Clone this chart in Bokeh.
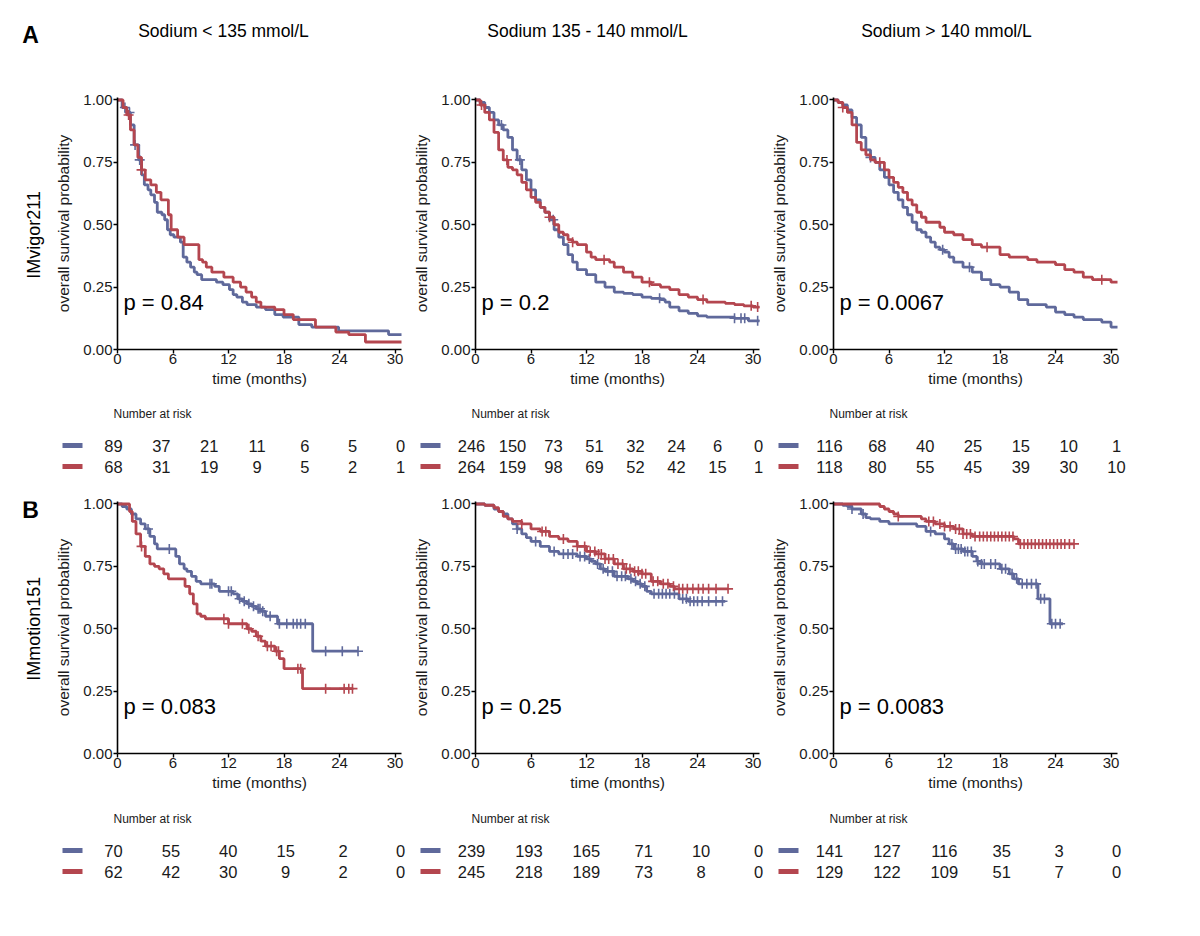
import bisect
from bokeh.plotting import figure
from bokeh.layouts import row, column
from bokeh.models import Range1d, FixedTicker, PrintfTickFormatter
from bokeh.core.properties import value
from bokeh.embed import file_html
from bokeh.resources import INLINE

FONT = "Liberation Sans"
BLUE = "#5F699B"
RED = "#B4464F"

# ---------------- data ----------------
TITLES = ["Sodium < 135 mmol/L", "Sodium 135 - 140 mmol/L", "Sodium > 140 mmol/L"]
PANELS = ["A", "B"]
COHORTS = ["IMvigor211", "IMmotion151"]
X_TICKS = [0, 6, 12, 18, 24, 30]
Y_TICKS = [0.0, 0.25, 0.5, 0.75, 1.0]

# Row A (IMvigor211)
a1_blue_t = [0.5, 1.0, 1.4, 1.8, 2.3, 2.6, 2.9, 3.3, 3.6, 4.0, 4.3, 4.8, 5.1, 5.4, 5.7, 6.1, 6.8, 7.1, 7.5, 7.9, 8.3, 8.6, 9.1, 10.7, 11.4, 12.1, 12.5, 12.9, 13.5, 14.0, 15.0, 16.0, 17.0, 17.9, 19.6, 21.0, 23.9, 29.3]
a1_blue_s = [0.97, 0.95, 0.90, 0.82, 0.76, 0.70, 0.66, 0.64, 0.62, 0.59, 0.55, 0.54, 0.52, 0.48, 0.46, 0.45, 0.43, 0.37, 0.35, 0.33, 0.31, 0.30, 0.28, 0.27, 0.26, 0.24, 0.22, 0.21, 0.19, 0.18, 0.17, 0.16, 0.14, 0.13, 0.10, 0.09, 0.075, 0.06]
a1_blue_end = 30.8
a1_blue_cens = [0.8, 1.3, 1.9, 2.4]
a1_red_t = [0.6, 1.0, 1.4, 1.8, 2.2, 2.6, 3.0, 3.6, 4.2, 4.7, 5.5, 5.8, 6.5, 7.2, 8.8, 9.2, 9.6, 10.2, 11.5, 12.5, 13.3, 13.9, 14.5, 15.0, 15.5, 17.0, 18.0, 19.0, 21.4, 23.6, 25.0, 26.8]
a1_red_s = [0.97, 0.94, 0.88, 0.82, 0.77, 0.72, 0.68, 0.66, 0.63, 0.60, 0.54, 0.48, 0.45, 0.42, 0.36, 0.35, 0.33, 0.31, 0.29, 0.27, 0.25, 0.23, 0.21, 0.19, 0.17, 0.16, 0.14, 0.12, 0.09, 0.07, 0.06, 0.03]
a1_red_end = 30.8
a1_red_cens = [1.2, 2.6]

a2_blue_t = [0.5, 1.0, 1.5, 2.0, 2.5, 3.0, 3.5, 4.0, 4.5, 5.0, 5.5, 6.0, 6.5, 7.0, 7.5, 8.0, 8.5, 9.0, 9.5, 10.0, 10.5, 11.0, 12.0, 13.0, 14.0, 15.0, 16.0, 17.0, 18.0, 19.0, 20.0, 20.5, 21.0, 22.0, 23.0, 24.0, 25.0, 28.0, 29.5]
a2_blue_s = [0.99, 0.97, 0.95, 0.92, 0.90, 0.88, 0.85, 0.80, 0.76, 0.72, 0.68, 0.64, 0.60, 0.57, 0.55, 0.52, 0.48, 0.45, 0.42, 0.38, 0.35, 0.32, 0.30, 0.27, 0.25, 0.23, 0.225, 0.22, 0.21, 0.205, 0.20, 0.19, 0.17, 0.155, 0.145, 0.135, 0.13, 0.125, 0.115]
a2_blue_end = 30.8
a2_blue_cens = [2.8, 4.8, 8.4, 19.9, 28.0, 28.7, 29.1, 30.5]
a2_red_t = [0.5, 1.0, 1.5, 2.0, 2.5, 3.0, 3.5, 4.0, 4.5, 5.0, 5.5, 6.0, 6.5, 7.0, 7.5, 8.0, 8.5, 9.0, 9.5, 10.0, 10.5, 11.0, 12.0, 12.5, 13.0, 14.5, 15.0, 16.0, 17.0, 18.0, 19.0, 20.0, 21.0, 22.0, 23.0, 24.0, 25.0, 27.0, 28.0, 29.0, 30.0]
a2_red_s = [0.98, 0.95, 0.92, 0.87, 0.80, 0.76, 0.73, 0.72, 0.70, 0.67, 0.64, 0.61, 0.59, 0.57, 0.55, 0.53, 0.50, 0.47, 0.46, 0.44, 0.43, 0.42, 0.39, 0.37, 0.36, 0.35, 0.33, 0.31, 0.29, 0.27, 0.26, 0.25, 0.24, 0.22, 0.21, 0.20, 0.19, 0.185, 0.18, 0.175, 0.17]
a2_red_end = 30.8
a2_red_cens = [0.65, 3.4, 8.0, 10.5, 13.9, 18.8, 24.6, 29.8, 30.5]

a3_blue_t = [0.5, 1.0, 1.5, 2.0, 2.5, 3.0, 3.5, 4.0, 4.5, 5.0, 5.5, 6.0, 6.5, 7.0, 7.5, 8.0, 8.5, 9.0, 9.5, 10.0, 10.5, 11.0, 11.5, 12.0, 12.5, 13.0, 14.0, 15.0, 16.0, 17.0, 18.0, 19.0, 20.0, 21.0, 23.0, 24.0, 25.0, 26.0, 27.0, 29.0, 30.0]
a3_blue_s = [0.99, 0.98, 0.96, 0.93, 0.90, 0.85, 0.80, 0.77, 0.75, 0.72, 0.69, 0.66, 0.63, 0.60, 0.57, 0.54, 0.51, 0.48, 0.47, 0.45, 0.43, 0.41, 0.40, 0.39, 0.37, 0.35, 0.33, 0.31, 0.28, 0.26, 0.25, 0.23, 0.20, 0.18, 0.17, 0.15, 0.14, 0.13, 0.12, 0.11, 0.09]
a3_blue_end = 30.8
a3_blue_cens = [4.0, 11.8, 14.7]
a3_red_t = [0.5, 1.0, 1.5, 2.0, 2.5, 3.0, 3.5, 4.0, 4.5, 5.5, 6.0, 6.5, 7.0, 7.5, 8.0, 8.5, 9.0, 9.5, 10.0, 11.5, 12.0, 13.0, 14.0, 15.0, 16.0, 18.0, 19.0, 21.0, 22.0, 24.0, 25.0, 26.0, 27.0, 28.0, 30.0]
a3_red_s = [0.99, 0.97, 0.95, 0.90, 0.83, 0.80, 0.78, 0.76, 0.75, 0.72, 0.69, 0.67, 0.65, 0.63, 0.60, 0.58, 0.55, 0.53, 0.51, 0.49, 0.47, 0.46, 0.44, 0.42, 0.41, 0.38, 0.37, 0.36, 0.35, 0.34, 0.32, 0.31, 0.29, 0.28, 0.27]
a3_red_end = 30.8
a3_red_cens = [1.0, 5.0, 16.6, 29.0]

# Row B (IMmotion151)
b1_blue_t = [0.5, 1.0, 1.5, 2.0, 2.5, 3.0, 3.5, 4.0, 4.3, 6.3, 6.7, 7.2, 7.5, 8.0, 8.5, 9.0, 10.5, 11.0, 12.5, 13.0, 13.5, 14.0, 14.5, 15.0, 15.5, 16.0, 17.3, 21.1]
b1_blue_s = [0.99, 0.98, 0.96, 0.94, 0.92, 0.90, 0.87, 0.84, 0.82, 0.79, 0.76, 0.74, 0.73, 0.71, 0.69, 0.68, 0.67, 0.65, 0.64, 0.62, 0.61, 0.60, 0.59, 0.58, 0.57, 0.55, 0.52, 0.41]
b1_blue_end = 26.0
b1_blue_cens = [3.3, 5.6, 10.0, 10.2, 12.0, 12.3, 13.2, 13.7, 14.2, 14.7, 15.2, 15.4, 15.7, 16.5, 17.5, 18.3, 19.0, 19.4, 19.8, 20.3, 22.5, 24.3, 26.0]
b1_red_t = [1.3, 1.6, 2.0, 2.5, 3.0, 3.5, 4.0, 4.5, 5.0, 5.5, 7.3, 7.8, 8.2, 8.6, 9.0, 9.5, 12.0, 14.0, 14.5, 15.0, 15.5, 16.0, 17.0, 17.5, 18.0, 20.0]
b1_red_s = [0.97, 0.93, 0.88, 0.83, 0.79, 0.76, 0.75, 0.74, 0.72, 0.70, 0.67, 0.64, 0.60, 0.56, 0.55, 0.54, 0.52, 0.50, 0.49, 0.47, 0.45, 0.43, 0.41, 0.38, 0.34, 0.26]
b1_red_end = 25.4
b1_red_cens = [2.6, 11.5, 12.0, 13.5, 14.2, 15.2, 16.2, 16.6, 17.2, 17.4, 19.5, 19.8, 22.5, 24.5, 25.0, 25.4]

b2_blue_t = [1.0, 2.0, 2.5, 3.0, 3.5, 4.0, 4.5, 5.0, 5.5, 6.0, 7.0, 8.0, 9.0, 11.0, 12.0, 12.5, 13.0, 13.5, 14.0, 15.0, 16.5, 17.0, 17.5, 18.0, 18.5, 19.0, 22.0, 23.0]
b2_blue_s = [0.995, 0.98, 0.97, 0.96, 0.94, 0.92, 0.90, 0.88, 0.865, 0.85, 0.83, 0.81, 0.80, 0.79, 0.78, 0.77, 0.76, 0.74, 0.73, 0.71, 0.70, 0.69, 0.68, 0.67, 0.65, 0.64, 0.62, 0.61]
b2_blue_end = 27.0
b2_blue_cens = [4.5, 6.5, 8.5, 9.5, 10.0, 10.5, 11.3, 11.8, 12.3, 13.2, 13.8, 14.3, 14.8, 15.3, 15.8, 16.2, 16.8, 17.3, 17.8, 18.3, 19.3, 19.8, 20.2, 20.6, 21.0, 21.5, 22.4, 22.8, 23.2, 23.6, 24.0, 24.5, 25.2, 26.0, 26.7]
b2_red_t = [1.0, 2.0, 2.5, 3.0, 3.5, 4.0, 5.0, 6.0, 7.0, 8.0, 9.0, 10.0, 11.0, 12.0, 13.0, 14.0, 15.0, 16.0, 17.0, 18.0, 19.0, 20.0, 21.0, 21.5]
b2_red_s = [0.995, 0.985, 0.97, 0.95, 0.94, 0.93, 0.92, 0.90, 0.89, 0.87, 0.86, 0.85, 0.83, 0.81, 0.80, 0.78, 0.76, 0.74, 0.73, 0.72, 0.69, 0.68, 0.67, 0.66]
b2_red_end = 27.3
b2_red_cens = [5.0, 7.2, 7.6, 9.5, 11.0, 11.8, 12.4, 12.9, 13.3, 13.6, 14.0, 14.4, 14.9, 15.4, 15.9, 16.3, 16.7, 17.2, 17.6, 18.0, 18.4, 19.2, 19.7, 20.3, 20.8, 21.4, 22.0, 22.4, 22.9, 23.5, 24.1, 24.6, 25.2, 26.0, 27.3]

b3_blue_t = [1.0, 1.5, 2.0, 3.0, 3.5, 4.0, 5.0, 6.0, 9.0, 10.0, 11.0, 12.0, 12.5, 13.0, 14.0, 15.0, 15.5, 16.0, 18.0, 19.0, 19.5, 20.0, 22.1, 23.4]
b3_blue_s = [0.995, 0.99, 0.98, 0.96, 0.945, 0.94, 0.93, 0.92, 0.91, 0.89, 0.88, 0.86, 0.84, 0.82, 0.81, 0.79, 0.77, 0.76, 0.74, 0.72, 0.70, 0.68, 0.62, 0.52]
b3_blue_end = 24.8
b3_blue_cens = [2.0, 3.2, 10.5, 12.8, 13.2, 13.5, 13.8, 14.2, 14.5, 14.9, 15.6, 16.0, 16.3, 17.0, 17.5, 18.2, 18.6, 19.3, 19.8, 20.4, 20.9, 21.4, 21.9, 22.4, 22.8, 23.6, 24.0, 24.5]
b3_red_t = [5.0, 5.5, 6.0, 6.5, 7.0, 9.5, 10.0, 11.0, 12.0, 13.0, 14.0, 15.0, 19.5, 20.0]
b3_red_s = [0.99, 0.98, 0.97, 0.96, 0.95, 0.94, 0.93, 0.92, 0.91, 0.90, 0.88, 0.87, 0.86, 0.84]
b3_red_end = 26.0
b3_red_cens = [7.0, 10.3, 10.8, 11.5, 12.0, 12.6, 13.2, 13.6, 14.0, 14.4, 14.8, 15.3, 15.8, 16.2, 16.6, 17.0, 17.4, 17.8, 18.2, 18.6, 19.0, 19.4, 20.2, 20.6, 21.0, 21.4, 21.8, 22.2, 22.6, 23.0, 23.4, 23.8, 24.2, 24.6, 25.0, 25.5, 26.0]

P_VALUES = [["p = 0.84", "p = 0.2", "p = 0.0067"], ["p = 0.083", "p = 0.25", "p = 0.0083"]]

# number at risk
a1_risk_blue = [89, 37, 21, 11, 6, 5, 0]
a1_risk_red = [68, 31, 19, 9, 5, 2, 1]
a2_risk_blue = [246, 150, 73, 51, 32, 24, 6, 0]
a2_risk_red = [264, 159, 98, 69, 52, 42, 15, 1]
a3_risk_blue = [116, 68, 40, 25, 15, 10, 1]
a3_risk_red = [118, 80, 55, 45, 39, 30, 10]
b1_risk_blue = [70, 55, 40, 15, 2, 0]
b1_risk_red = [62, 42, 30, 9, 2, 0]
b2_risk_blue = [239, 193, 165, 71, 10, 0]
b2_risk_red = [245, 218, 189, 73, 8, 0]
b3_risk_blue = [141, 127, 116, 35, 3, 0]
b3_risk_red = [129, 122, 109, 51, 7, 0]

# ---------------- layout constants ----------------
COL_W = 358
STRIP_W = 50
HEADER_H = 85
KM_H = [310, 315]
KM_TOP = [12, 16]
RISK_H = 90
TXT = "#1a1a1a"
TITLE_DX = [-6, 0, 1]
COHORT_Y = [169, 159]
PANEL_B_Y = 10


def step_value(times, surv, t):
    i = bisect.bisect_right(times, t)
    return 1.0 if i == 0 else surv[i - 1]


def km_fig(r, curves, pval):
    p = figure(width=COL_W, height=KM_H[r], x_range=Range1d(0, 30.7), y_range=Range1d(0, 1.01),
               output_backend="svg", toolbar_location=None, title=None,
               min_border_left=67, min_border_right=7, min_border_top=KM_TOP[r],
               min_border_bottom=KM_H[r] - KM_TOP[r] - 252)
    p.grid.visible = False
    p.outline_line_color = None
    for times, surv, end, cens, color in curves:
        xs = [0.0] + times + [end]
        ys = [1.0] + surv + [surv[-1]]
        p.step(xs, ys, mode="after", line_width=2.8, line_color=color)
        cy = [step_value(times, surv, c) for c in cens]
        p.scatter(cens, cy, marker="cross", size=10, line_width=1.6, line_color=color)
    p.text(x=[0.65], y=[0.19], text=[pval], text_font=value(FONT), text_font_size="22px",
           text_color="black", text_align="left", text_baseline="middle")
    xa, ya = p.xaxis[0], p.yaxis[0]
    xa.ticker = FixedTicker(ticks=X_TICKS)
    ya.ticker = FixedTicker(ticks=Y_TICKS)
    ya.formatter = PrintfTickFormatter(format="%.2f")
    xa.axis_label = "time (months)"
    ya.axis_label = "overall survival probability"
    for ax in (xa, ya):
        ax.axis_line_width = 1.6
        ax.axis_line_color = "black"
        ax.major_tick_line_color = "black"
        ax.major_tick_line_width = 1.4
        ax.major_tick_out = 4
        ax.major_tick_in = 0
        ax.minor_tick_line_color = None
        ax.major_label_text_font = FONT
        ax.major_label_text_font_size = "15px"
        ax.major_label_text_color = TXT
        ax.axis_label_text_font = FONT
        ax.axis_label_text_font_size = "15.5px"
        ax.axis_label_text_font_style = "normal"
        ax.axis_label_text_color = TXT
    xa.major_label_standoff = 0
    xa.axis_label_standoff = 3
    ya.major_label_standoff = 1
    ya.axis_label_standoff = 8
    return p


def blank(width, height, xr, yr):
    p = figure(width=width, height=height, x_range=xr, y_range=yr, output_backend="svg",
               toolbar_location=None, title=None, x_axis_type=None, y_axis_type=None, min_border=0)
    p.grid.visible = False
    p.outline_line_color = None
    return p


def risk_fig(blue_vals, red_vals, extra):
    n = len(blue_vals)
    left, right = 63.0, 350.0
    sc = (right - left) / (n - 1)
    x0 = -left / sc
    w = COL_W + extra
    p = blank(w, RISK_H, Range1d(x0, x0 + w / sc), Range1d(RISK_H, 0))
    idx = list(range(n))
    p.text(x=[0], y=[18], text=["Number at risk"], text_font=value(FONT), text_font_size="12px",
           text_color=TXT, text_align="left", text_baseline="middle")
    for vals, yy, color in ((blue_vals, 50, BLUE), (red_vals, 71, RED)):
        p.segment(x0=[(12 - left) / sc], y0=[yy], x1=[(32 - left) / sc], y1=[yy],
                  line_width=5, line_color=color, line_cap="butt")
        p.text(x=idx, y=[yy] * n, text=[str(v) for v in vals], text_font=value(FONT),
               text_font_size="16.5px", text_color=TXT, text_align="center", text_baseline="middle")
    return p


# ---------------- build ----------------
TOTAL_W = STRIP_W + 3 * COL_W + 60
header = blank(TOTAL_W, HEADER_H, Range1d(0, TOTAL_W), Range1d(HEADER_H, 0))
header.text(x=[STRIP_W + COL_W * k + COL_W / 2 + TITLE_DX[k] for k in range(3)], y=[30] * 3, text=TITLES,
            text_font=value(FONT), text_font_size="17.5px", text_color="black",
            text_align="center", text_baseline="middle")
header.text(x=[30], y=[34], text=[PANELS[0]], text_font=value(FONT), text_font_size="23px",
            text_font_style="bold", text_color="black", text_align="center", text_baseline="middle")

km_data = [
    [((a1_blue_t, a1_blue_s, a1_blue_end, a1_blue_cens, BLUE)), (a1_red_t, a1_red_s, a1_red_end, a1_red_cens, RED)],
    [((a2_blue_t, a2_blue_s, a2_blue_end, a2_blue_cens, BLUE)), (a2_red_t, a2_red_s, a2_red_end, a2_red_cens, RED)],
    [((a3_blue_t, a3_blue_s, a3_blue_end, a3_blue_cens, BLUE)), (a3_red_t, a3_red_s, a3_red_end, a3_red_cens, RED)],
], [
    [((b1_blue_t, b1_blue_s, b1_blue_end, b1_blue_cens, BLUE)), (b1_red_t, b1_red_s, b1_red_end, b1_red_cens, RED)],
    [((b2_blue_t, b2_blue_s, b2_blue_end, b2_blue_cens, BLUE)), (b2_red_t, b2_red_s, b2_red_end, b2_red_cens, RED)],
    [((b3_blue_t, b3_blue_s, b3_blue_end, b3_blue_cens, BLUE)), (b3_red_t, b3_red_s, b3_red_end, b3_red_cens, RED)],
]
risk_data = [
    [(a1_risk_blue, a1_risk_red), (a2_risk_blue, a2_risk_red), (a3_risk_blue, a3_risk_red)],
    [(b1_risk_blue, b1_risk_red), (b2_risk_blue, b2_risk_red), (b3_risk_blue, b3_risk_red)],
]

rows = [header]
for r in range(2):
    strip = blank(STRIP_W, KM_H[r], Range1d(0, STRIP_W), Range1d(KM_H[r], 0))
    strip.text(x=[33], y=[COHORT_Y[r]], text=[COHORTS[r]], text_font=value(FONT),
               text_font_size="18px", text_color="black", angle=1.5707963,
               text_align="center", text_baseline="middle")
    if r == 1:
        strip.text(x=[30], y=[PANEL_B_Y], text=[PANELS[1]], text_font=value(FONT), text_font_size="23px",
                   text_font_style="bold", text_color="black", text_align="center", text_baseline="middle")
    kms = [km_fig(r, km_data[r][c], P_VALUES[r][c]) for c in range(3)]
    rows.append(row(strip, *kms))
    rstrip = blank(STRIP_W, RISK_H, Range1d(0, STRIP_W), Range1d(RISK_H, 0))
    rts = [risk_fig(*risk_data[r][c], 60 if c == 2 else 0) for c in range(3)]
    rows.append(row(rstrip, *rts))

layout = column(*rows)
open("out.html", "w").write(file_html(layout, INLINE))
